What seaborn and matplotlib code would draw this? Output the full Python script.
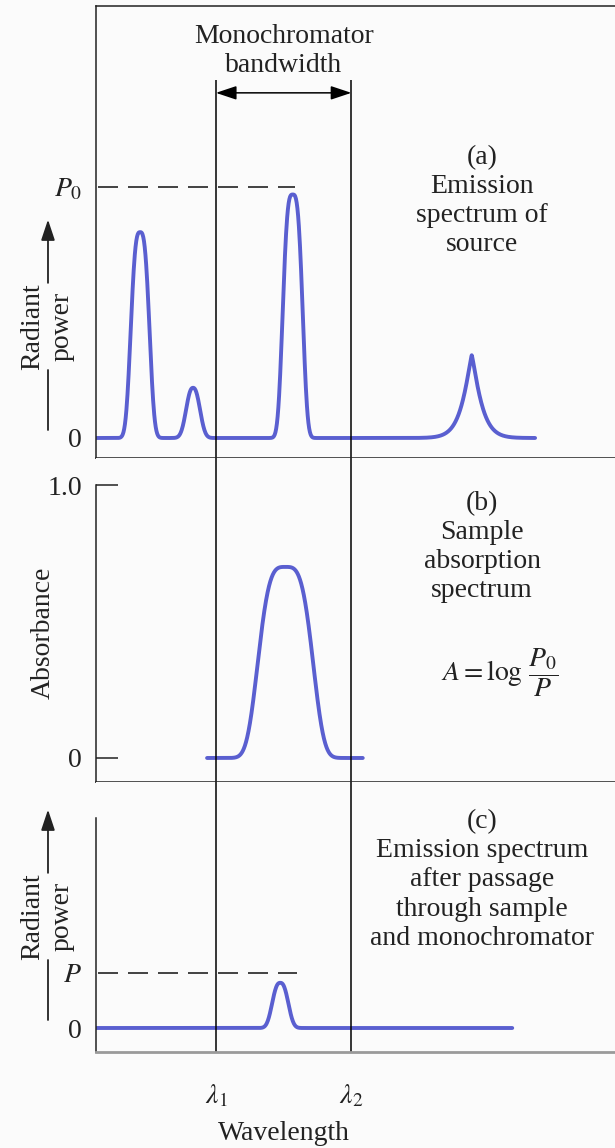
import numpy as np
import pandas as pd
import matplotlib
matplotlib.use("Agg")
import matplotlib.pyplot as plt
import seaborn as sns

# ---------------- data (wavelength in arbitrary units, 0..100 across the axis) ----------------
x_lim = (0.0, 100.0)
lambda_1, lambda_2 = 23.1, 49.2
tick_labels_x = [r"$\lambda_1$", r"$\lambda_2$"]

# (a) emission spectrum of the source (P0 = 1)
src_centers = [8.5, 18.7, 37.9, 72.4]
src_heights = [0.82, 0.20, 0.97, 0.33]
src_widths = [2.1, 1.7, 2.2, 2.1]
src_shapes = [3.0, 2.4, 3.2, 1.2]
src_range = (0.0, 84.6)
P0_level = 1.0
P0_dash_range = (0.4, 38.3)
labels_a = ["0", r"$P_0$"]

# (b) sample absorption spectrum
abs_centers = [36.5]
abs_heights = [0.70]
abs_widths = [5.9]
abs_shapes = [3.6]
abs_range = (21.4, 51.4)
labels_b = ["0", "1.0"]

# (c) emission after sample and monochromator
out_centers = [35.5]
out_heights = [0.18]
out_widths = [1.9]
out_shapes = [2.6]
out_range = (0.0, 80.2)
P_level = 0.22
P_dash_range = (0.4, 38.7)
labels_c = ["0", r"$P$"]

bandwidth_y = 1.375
bandwidth_top = 1.426


def spectrum(xr, centers, heights, widths, shapes, n=1200):
    x = np.linspace(xr[0], xr[1], n)
    y = np.zeros_like(x)
    for c, h, w, p in zip(centers, heights, widths, shapes):
        y += h * np.exp(-(np.abs(x - c) / w) ** p)
    return pd.DataFrame({"wavelength": x, "signal": y})


df_a = spectrum(src_range, src_centers, src_heights, src_widths, src_shapes)
df_b = spectrum(abs_range, abs_centers, abs_heights, abs_widths, abs_shapes)
df_c = spectrum(out_range, out_centers, out_heights, out_widths, out_shapes)

# ---------------- style ----------------
sns.set_theme(style="white")
plt.rcParams["font.family"] = ["Liberation Serif", "DejaVu Serif"]
plt.rcParams["mathtext.fontset"] = "stix"

BG = "#fbfbfb"
BLUE = "#5a5fd0"
INK = "#222222"
FS = 20

fig = plt.figure(figsize=(6.15, 11.48), dpi=100, facecolor=BG)
gs = fig.add_gridspec(3, 1, height_ratios=[452, 324, 270],
                      left=96 / 615, right=1.0, top=1 - 6 / 1148,
                      bottom=1 - 1052 / 1148, hspace=0)
ax_a = fig.add_subplot(gs[0])
ax_b = fig.add_subplot(gs[1], sharex=ax_a)
ax_c = fig.add_subplot(gs[2], sharex=ax_a)

for ax in (ax_a, ax_b, ax_c):
    ax.set_facecolor(BG)
    for s in ax.spines.values():
        s.set_color(INK)
        s.set_linewidth(1.1)
    ax.spines["right"].set_visible(False)

# curves
for ax, df in ((ax_a, df_a), (ax_b, df_b), (ax_c, df_c)):
    sns.lineplot(data=df, x="wavelength", y="signal", ax=ax, color=BLUE,
                 lw=2.8, estimator=None, sort=False, legend=False)
    ax.set_xlabel("")
    ax.set_ylabel("")

ax_a.set_xlim(*x_lim)

# ---- panel (a)
ax_a.set_ylim(-0.0797, 1.721)
ax_a.set_yticks([0, P0_level])
ax_a.set_yticklabels(labels_a)
ax_a.tick_params(axis="y", length=0, pad=10, labelsize=FS, colors=INK)
ax_a.tick_params(axis="x", bottom=False, labelbottom=False)
ax_a.plot(P0_dash_range, [P0_level, P0_level], color=INK, lw=1.2, dashes=(12, 6))
ax_a.vlines([lambda_1, lambda_2], -0.0797, bandwidth_top, color="black", lw=1.1)
ax_a.annotate("", xy=(lambda_1, bandwidth_y), xytext=(lambda_2, bandwidth_y),
              arrowprops=dict(arrowstyle="<|-|>,head_length=0.9,head_width=0.3",
                              color="black", lw=1.1, mutation_scale=14,
                              shrinkA=0, shrinkB=0))
ax_a.text((lambda_1 + lambda_2) / 2, 1.542, "Monochromator\nbandwidth",
          ha="center", va="center", fontsize=FS, linespacing=1.18, color=INK)
ax_a.text(74.4, 0.944, "(a)\nEmission\nspectrum of\nsource", ha="center",
          va="center", fontsize=FS, linespacing=1.22, color=INK)

# ---- panel (b)
ax_b.set_ylim(-0.088, 1.099)
ax_b.spines["top"].set_visible(False)
ax_b.spines["left"].set_bounds(-0.088, 1.0)
ax_b.set_yticks([0, 1.0])
ax_b.set_yticklabels(labels_b)
ax_b.tick_params(axis="y", direction="in", length=16, width=1.1, pad=10,
                 labelsize=FS, colors=INK, left=True)
ax_b.tick_params(axis="x", bottom=False, labelbottom=False)
for lam in (lambda_1, lambda_2):
    ax_b.axvline(lam, color="black", lw=1.1)
ax_b.text(74.4, 0.773, "(b)\nSample\nabsorption\nspectrum", ha="center",
          va="center", fontsize=FS, linespacing=1.22, color=INK)
ax_b.text(77.8, 0.311, r"$A = \log\,\dfrac{P_0}{P}$", ha="center",
          va="center", fontsize=FS, color=INK)

# ---- panel (c)
ax_c.set_ylim(-0.0956, 0.98)
ax_c.spines["top"].set_visible(False)
ax_c.spines["left"].set_bounds(-0.0956, 0.837)
ax_c.spines["bottom"].set_color("#9a9a9a")
ax_c.spines["bottom"].set_linewidth(2.0)
ax_c.set_yticks([0, P_level])
ax_c.set_yticklabels(labels_c)
ax_c.tick_params(axis="y", length=0, pad=10, labelsize=FS, colors=INK)
ax_c.plot(P_dash_range, [P_level, P_level], color=INK, lw=1.2, dashes=(12, 6))
for lam in (lambda_1, lambda_2):
    ax_c.axvline(lam, color="black", lw=1.1)
ax_c.set_xticks([lambda_1, lambda_2])
ax_c.set_xticklabels(tick_labels_x)
ax_c.tick_params(axis="x", length=0, pad=22, labelsize=FS, colors=INK)
ax_c.set_xlabel("Wavelength", fontsize=FS, color=INK)
ax_c.xaxis.set_label_coords(((lambda_1 + lambda_2) / 2 - x_lim[0]) / (x_lim[1] - x_lim[0]), -0.3)
ax_c.xaxis.label.set_verticalalignment("center")
ax_c.text(74.4, 0.59, "(c)\nEmission spectrum\nafter passage\nthrough sample\nand monochromator",
          ha="center", va="center", fontsize=FS, linespacing=1.22, color=INK)

# ---- "Radiant power" arrows and Absorbance label
for ax in (ax_a, ax_c):
    tr = ax.get_yaxis_transform()
    ax.annotate("", xy=(-0.0925, 0.87), xytext=(-0.0925, 0.618), xycoords=tr,
                textcoords=tr, annotation_clip=False,
                arrowprops=dict(arrowstyle="-|>,head_length=0.9,head_width=0.3",
                                color=INK, lw=1.3, mutation_scale=14,
                                shrinkA=0, shrinkB=0))
    ax.plot([-0.0925, -0.0925], [0.271, 0.03], transform=tr, color=INK,
            lw=1.3, clip_on=False)
    ax.text(-0.094, 0.444, "Radiant\npower", rotation=90, ha="center",
            va="center", transform=tr, fontsize=FS, linespacing=1.2,
            multialignment="center", color=INK)

ax_b.text(-0.102, 0.458, "Absorbance", rotation=90, ha="center", va="center",
          transform=ax_b.get_yaxis_transform(), fontsize=FS, color=INK)

fig.savefig("out.png", dpi=100, facecolor=BG)
